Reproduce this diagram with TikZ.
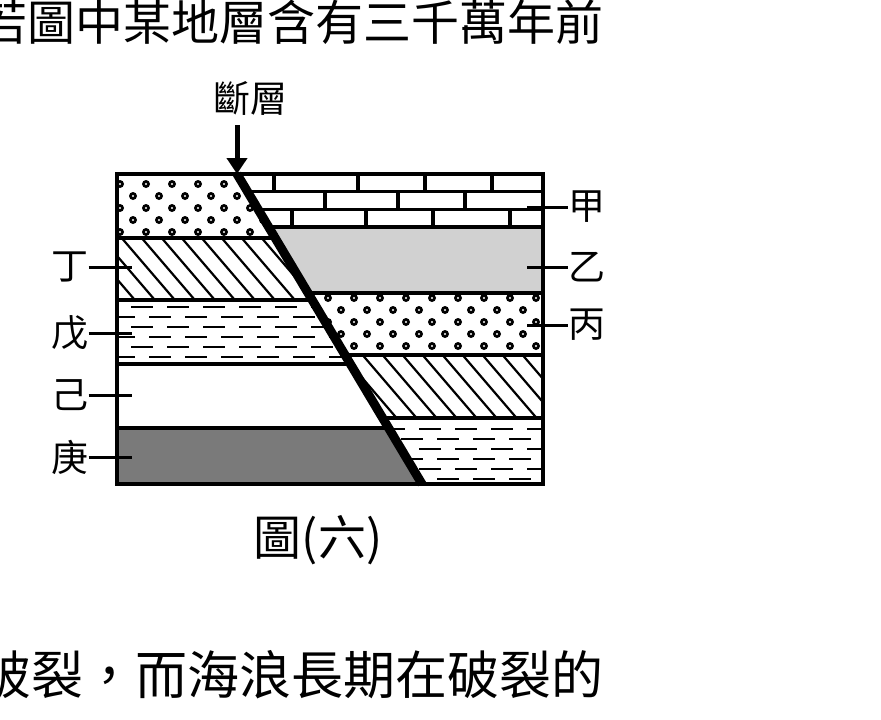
\documentclass[tikz,border=0pt]{standalone}
\usepackage{fontspec}
\setmainfont{Noto Sans CJK TC}
\usetikzlibrary{arrows.meta}
\tikzset{
  layer/.style={draw=black, line width=3.5pt},
  tick/.style={line width=3pt},
  lbl/.style={font=\fontsize{37}{37}\selectfont, inner sep=0pt},
  big/.style={font=\fontsize{48}{48}\selectfont, inner sep=0pt},
  rockline/.style={line width=2.2pt}
}
% fills for each kind of rock
\newcommand{\rockdots}{%
  \foreach \r in {0,...,6}{
    \foreach \c in {0,...,17}{
      \pgfmathsetmacro{\xx}{120+\c*26+mod(\r,2)*13}
      \fill[black] (\xx,\r*12) circle (4);
      \fill[white] (\xx,\r*12) circle (1.2);
    }}}
\newcommand{\rockhatch}{%
  \foreach \c in {-6,...,24}{
    \draw[rockline] (100+\c*20,0) -- ++(60,70);
  }}
\newcommand{\rockdash}{%
  \foreach \r in {0,...,6}{
    \foreach \c in {0,...,12}{
      \pgfmathsetmacro{\xx}{95+\c*36+mod(\r,2)*18}
      \draw[rockline] (\xx,\r*10+7) -- ++(22,0);
    }}}
\begin{document}
\begin{tikzpicture}[x=1pt,y=-1pt]
\useasboundingbox (0,0) rectangle (881,720);
% text around the figure
\node[big, anchor=east] (top) at (604,22) {若圖中某地層含有三千萬年前};
\node[big, anchor=east, font=\fontsize{52}{52}\selectfont] (bot) at (604,675) {破裂，而海浪長期在破裂的};
% left block
\begin{scope}
  \clip (117,174) -- (237,174) -- (275.2,238) -- (117,238) -- cycle;
  \begin{scope}[yshift=-184]\rockdots\end{scope}
\end{scope}
\begin{scope}
  \clip (117,238) -- (275.2,238) -- (312.2,300) -- (117,300) -- cycle;
  \begin{scope}[yshift=-236]\rockhatch\end{scope}
\end{scope}
\begin{scope}
  \clip (117,300) -- (312.2,300) -- (350.4,364) -- (117,364) -- cycle;
  \begin{scope}[yshift=-300]\rockdash\end{scope}
\end{scope}
\fill[black!52] (117,428) -- (388.6,428) -- (422,484) -- (117,484) -- cycle;
% right block
\fill[black!18] (268.6,227) -- (543,227) -- (543,293) -- (308,293) -- cycle;
\begin{scope}
  \clip (237,174) -- (543,174) -- (543,227) -- (268.6,227) -- cycle;
  \foreach \yy in {191.7,209.3}{\draw[layer] (117,\yy) -- (543,\yy);}
  \foreach \xx in {274,358,425,492}{\draw[layer] (\xx,174) -- (\xx,191.7);}
  \foreach \xx in {325,398,465}{\draw[layer] (\xx,191.7) -- (\xx,209.3);}
  \foreach \xx in {292,366,433,510}{\draw[layer] (\xx,209.3) -- (\xx,227);}
\end{scope}
\begin{scope}
  \clip (308,293) -- (543,293) -- (543,355) -- (345.1,355) -- cycle;
  \begin{scope}[yshift=-298]\rockdots\end{scope}
\end{scope}
\begin{scope}
  \clip (345.1,355) -- (543,355) -- (543,418) -- (382.7,418) -- cycle;
  \begin{scope}[yshift=-352]\rockhatch\end{scope}
\end{scope}
\begin{scope}
  \clip (382.7,418) -- (543,418) -- (543,484) -- (422,484) -- cycle;
  \begin{scope}[yshift=-422]\rockdash\end{scope}
\end{scope}
% layer boundaries
\draw[layer] (117,238) -- (275.2,238) (117,300) -- (312.2,300)
  (117,364) -- (350.4,364) (117,428) -- (388.6,428);
\draw[layer] (268.6,227) -- (543,227) (308,293) -- (543,293)
  (345.1,355) -- (543,355) (382.7,418) -- (543,418);
\draw[layer] (117,174) rectangle (543,484);
% fault
\coordinate (ftop) at (237,174);
\coordinate (fbot) at (422,484);
\draw[line width=9pt] (ftop) -- (fbot);
\node[lbl] (fault) at (250,98) {斷層};
\draw[line width=5pt, -{Triangle[length=16pt,width=20pt]}] (fault.south -| ftop) ++(0,10) -- (ftop);
% labels and ticks
\node[lbl] (jia) at (587,207) {甲};
\node[lbl] (yi) at (587,267) {乙};
\node[lbl] (bing) at (587,325) {丙};
\draw[tick] (527,207) -- (jia.west) (527,267) -- (yi.west) (527,325) -- (bing.west);
\node[lbl] (ding) at (70,267) {丁};
\node[lbl] (wu) at (70,333) {戊};
\node[lbl] (ji) at (70,395) {己};
\node[lbl] (geng) at (70,457) {庚};
\draw[tick] (ding.east) -- (132,267) (wu.east) -- (132,333) (ji.east) -- (132,395) (geng.east) -- (132,457);
\node[big] (cap) at (318,540) {圖(六)};
\end{tikzpicture}
\end{document}
